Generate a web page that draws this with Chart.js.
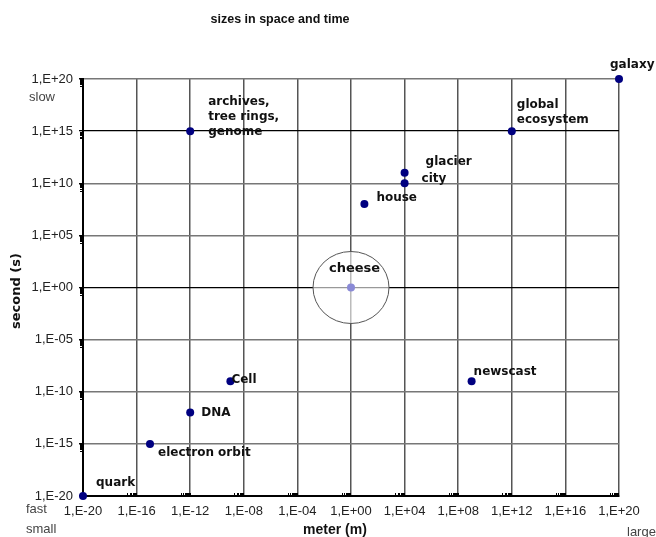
<!DOCTYPE html>
<html>
<head>
<meta charset="utf-8">
<script src="https://cdn.jsdelivr.net/npm/chart.js@4.4.1/dist/chart.umd.min.js"></script>
<style>
  html, body { margin: 0; padding: 0; background: #fff; }
  #wrap { width: 656px; height: 537px; position: relative; }
</style>
</head>
<body>
<div id="wrap"><canvas id="c" width="656" height="537"></canvas></div>
<script>
// ---- data ----
const pointLabels = ['quark', 'electron orbit', 'DNA', 'Cell', 'newscast', 'cheese', 'house', 'city', 'glacier', 'global\necosystem', 'archives,\ntree rings,\ngenome', 'galaxy'];
const sizeMeters = [1e-20, 1e-15, 1e-12, 1e-9, 1e9, 1, 10, 1e4, 1e4, 1e12, 1e-12, 1e20];
const timeSeconds = [1e-20, 1e-15, 1e-12, 1e-9, 1e-9, 1, 1e8, 1e10, 1e11, 1e15, 1e15, 1e20];
const highlightLabel = 'cheese';
const xTickValues = [1e-20, 1e-16, 1e-12, 1e-8, 1e-4, 1, 1e4, 1e8, 1e12, 1e16, 1e20];
const xTickLabels = ['1,E-20', '1,E-16', '1,E-12', '1,E-08', '1,E-04', '1,E+00', '1,E+04', '1,E+08', '1,E+12', '1,E+16', '1,E+20'];
const yTickValues = [1e-20, 1e-15, 1e-10, 1e-5, 1, 1e5, 1e10, 1e15, 1e20];
const yTickLabels = ['1,E-20', '1,E-15', '1,E-10', '1,E-05', '1,E+00', '1,E+05', '1,E+10', '1,E+15', '1,E+20'];
const emphasisY = [1e15, 1];

// ---- styling (label offsets relative to each point, first line centre) ----
const labelOffsets = [[13, -13], [8, 9], [11, 0], [1, -1], [2, -9], [-22, -19], [12, -6], [17, -4], [21, -11], [5, -26], [18, -29], [-9, -14]];
const labelFonts = ['bold 12px "DejaVu Sans"', 'bold 12px "DejaVu Sans"', 'bold 12px "DejaVu Sans"', 'bold 12px "DejaVu Sans"',
  'bold 12px "DejaVu Sans"', 'bold 13px "DejaVu Sans"', 'bold 12px "DejaVu Sans"', 'bold 12px "DejaVu Sans"',
  'bold 12px "DejaVu Sans"', 'bold 12px "DejaVu Sans"', 'bold 12px "DejaVu Sans"', 'bold 12px "DejaVu Sans"'];

const points = sizeMeters.map((x, i) => ({ x: x, y: timeSeconds[i] }));
const isHighlight = (i) => pointLabels[i] === highlightLabel;

const near = (a, b) => Math.abs(Math.log10(a) - Math.log10(b)) < 1e-6;

const decorPlugin = {
  id: 'decor',
  beforeDatasetsDraw(chart) {
    const ctx = chart.ctx;
    const meta = chart.getDatasetMeta(0);
    const idx = pointLabels.indexOf(highlightLabel);
    const el = meta.data[idx];
    ctx.save();
    ctx.beginPath();
    ctx.ellipse(el.x, el.y, 38, 36, 0, 0, Math.PI * 2);
    ctx.fillStyle = 'rgba(255,255,255,0.6)';
    ctx.fill();
    ctx.strokeStyle = '#555';
    ctx.lineWidth = 1;
    ctx.stroke();
    ctx.restore();
  },
  afterDatasetsDraw(chart) {
    const ctx = chart.ctx;
    const meta = chart.getDatasetMeta(0);
    ctx.save();
    ctx.fillStyle = '#111';
    ctx.textAlign = 'left';
    ctx.textBaseline = 'middle';
    meta.data.forEach((el, i) => {
      const lines = pointLabels[i].split('\n');
      ctx.font = labelFonts[i];
      lines.forEach((ln, j) => {
        ctx.fillText(ln, el.x + labelOffsets[i][0], el.y + labelOffsets[i][1] + j * 14.7);
      });
    });
    ctx.restore();
  },
  afterDraw(chart) {
    const ctx = chart.ctx;
    const xs = chart.scales.x, ys = chart.scales.y;
    const area = chart.chartArea;
    ctx.save();
    // minor ticks
    ctx.strokeStyle = '#000';
    ctx.lineWidth = 1;
    xTickValues.slice(1).forEach(v => {
      for (let k = 2; k <= 9; k++) {
        const px = Math.round(xs.getPixelForValue(v / 10 * k)) + 0.5;
        ctx.beginPath(); ctx.moveTo(px, area.bottom); ctx.lineTo(px, area.bottom - 3); ctx.stroke();
      }
    });
    yTickValues.slice(1).forEach(v => {
      for (let k = 2; k <= 9; k++) {
        const py = Math.round(ys.getPixelForValue(v / 10 * k)) + 0.5;
        ctx.beginPath(); ctx.moveTo(area.left, py); ctx.lineTo(area.left - 3, py); ctx.stroke();
      }
    });
    // title
    ctx.fillStyle = '#111';
    ctx.textAlign = 'center';
    ctx.textBaseline = 'middle';
    ctx.font = 'bold 12.5px "Liberation Sans"';
    ctx.fillText('sizes in space and time', 280, 20);
    // axis titles
    ctx.font = 'bold 14px "Liberation Sans"';
    ctx.fillText('meter (m)', 335, 530);
    ctx.save();
    ctx.translate(17, 291);
    ctx.rotate(-Math.PI / 2);
    ctx.font = 'bold 13px "DejaVu Sans"';
    ctx.fillText('second (s)', 0, 0);
    ctx.restore();
    // corner words
    ctx.fillStyle = '#444';
    ctx.textAlign = 'left';
    ctx.font = '13px "Liberation Sans"';
    ctx.fillText('slow', 29, 97);
    ctx.fillText('fast', 26, 509);
    ctx.fillText('small', 26, 529);
    ctx.fillText('large', 627, 532);
    ctx.restore();
  }
};

new Chart(document.getElementById('c'), {
  type: 'scatter',
  data: {
    datasets: [{
      data: points,
      clip: false,
      pointRadius: 4,
      pointHoverRadius: 4,
      pointBorderWidth: 0,
      pointBackgroundColor: (c) => isHighlight(c.dataIndex) ? '#8a8ad6' : '#000080',
      pointBorderColor: (c) => isHighlight(c.dataIndex) ? '#8a8ad6' : '#000080'
    }]
  },
  options: {
    responsive: false,
    animation: false,
    events: [],
    layout: { padding: { top: 79, right: 37, left: 0, bottom: 0 } },
    plugins: { legend: { display: false }, title: { display: false }, tooltip: { enabled: false } },
    scales: {
      x: {
        type: 'logarithmic',
        min: 1e-20,
        max: 1e20,
        afterBuildTicks: (s) => { s.ticks = xTickValues.map(v => ({ value: v })); },
        afterFit: (s) => { s.height = 41; s.paddingLeft = 0; s.paddingRight = 0; },
        ticks: {
          autoSkip: false,
          maxRotation: 0,
          padding: 8,
          color: '#222',
          font: { family: 'Liberation Sans', size: 13 },
          callback: (v, i) => xTickLabels[i]
        },
        grid: {
          drawTicks: false,
          color: '#555',
          lineWidth: 1.5
        },
        border: { display: true, color: '#000', width: 2 }
      },
      y: {
        type: 'logarithmic',
        min: 1e-20,
        max: 1e20,
        afterBuildTicks: (s) => { s.ticks = yTickValues.map(v => ({ value: v })); },
        afterFit: (s) => { s.width = 83; s.paddingTop = 0; s.paddingBottom = 0; },
        ticks: {
          autoSkip: false,
          padding: 6,
          color: '#222',
          font: { family: 'Liberation Sans', size: 13 },
          callback: (v, i) => yTickLabels[i]
        },
        grid: {
          drawTicks: true,
          tickLength: 4,
          tickColor: '#000',
          color: (c) => (c.tick && emphasisY.some(e => near(e, c.tick.value))) ? '#000' : '#777',
          lineWidth: (c) => (c.tick && emphasisY.some(e => near(e, c.tick.value))) ? 1.3 : 1.5
        },
        border: { display: true, color: '#000', width: 2 }
      }
    }
  },
  plugins: [decorPlugin]
});
</script>
</body>
</html>
